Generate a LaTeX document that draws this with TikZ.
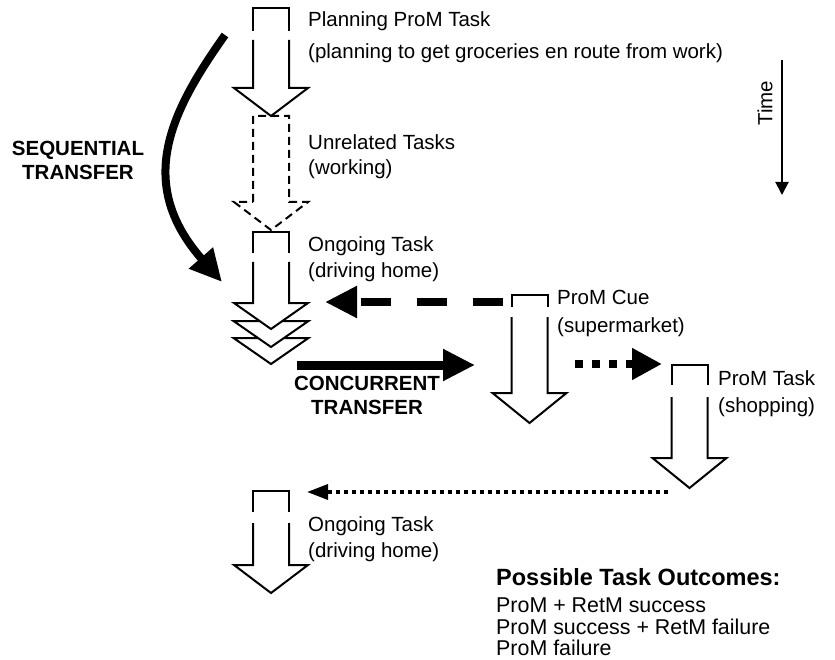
\documentclass[tikz,border=0pt]{standalone}
\usepackage{fontspec}
\setmainfont{Liberation Sans}
\usetikzlibrary{arrows.meta}
\tikzset{
  blk/.style={line width=2pt, line join=miter, miter limit=10},
  lbl/.style={anchor=base west, inner sep=0pt, font=\fontsize{20.5}{24}\selectfont},
  boldlbl/.style={align=center, inner sep=0pt, font=\fontsize{20.5}{24}\selectfont\bfseries},
  outc/.style={anchor=base west, inner sep=0pt, font=\fontsize{21.4}{22}\selectfont},
  bigtip/.style={-{Triangle[length=32pt,width=30pt]}},
}
\newcommand{\blockarr}[7][]{%
  \draw[blk,#1] ({#2-18},#4) -- ({#2-18},#3) -- ({#2+18},#3) -- ({#2+18},#4);
  \filldraw[blk,fill=white,#1] ({#2-18},#5) -- ({#2-18},#6) -- ({#2-37},#6) -- (#2,#7) -- ({#2+37},#6) -- ({#2+18},#6) -- ({#2+18},#5);
}
\begin{document}
\begin{tikzpicture}[x=1pt,y=-1pt]
\useasboundingbox (0,0) rectangle (835,660);
% block arrows
\blockarr{271}{8}{31}{40}{88}{116}
% unrelated (dashed)
\draw[blk,dash pattern=on 8pt off 5pt] (253,202) -- (253,116) -- (289,116) -- (289,202) -- (308,202) -- (271,230) -- (234,202) -- cycle;
% ongoing 1 with chevrons
\filldraw[blk,fill=white] (233.5,338) -- (271,364) -- (308.5,338) -- cycle;
\filldraw[blk,fill=white] (233.5,321) -- (271,347) -- (308.5,321) -- cycle;
\blockarr{271}{232}{253}{262}{303}{329}
% ProM cue
\blockarr{529.5}{295}{307}{317}{393}{423}
% ProM task
\blockarr{689.5}{365}{385}{397}{458}{488}
% final ongoing
\blockarr{271}{491}{512}{523}{565}{593}

% coordinates for connectors
\coordinate (seqS) at (225,35);
\coordinate (seqE) at (222,282);
\coordinate (cueL) at (503,302);
\coordinate (ongA) at (325,302);
\coordinate (conS) at (297,365);
\coordinate (conE) at (475,365);
\coordinate (dotS) at (575,364);
\coordinate (dotE) at (662,364);
\coordinate (retS) at (668,492);
\coordinate (retE) at (307,492);
\coordinate (timeS) at (782,60);
\coordinate (timeE) at (782,195);

% connectors
\draw[line width=8pt, bigtip] (seqS) .. controls (172,110) and (134,182) .. (seqE);
\draw[line width=8pt, dash pattern=on 30pt off 26pt, bigtip] (cueL) -- (ongA);
\draw[line width=9pt, bigtip] (conS) -- (conE);
\draw[line width=8pt, dash pattern=on 8pt off 9pt, -{Triangle[length=30pt,width=30pt]}] (dotS) -- (dotE);
\draw[line width=3.5pt, dash pattern=on 4pt off 4pt, -{Triangle[length=21pt,width=15pt]}] (retS) -- (retE);
\draw[line width=2pt, -{Triangle[length=13pt,width=13pt]}] (timeS) -- (timeE);

% labels
\node[lbl] (t1a) at (308,27) {Planning ProM Task};
\node[lbl] (t1b) at (308,59) {(planning to get groceries en route from work)};
\node[lbl] (t2a) at (308,150) {Unrelated Tasks};
\node[lbl] (t2b) at (308,175) {(working)};
\node[lbl] (t3a) at (308,252) {Ongoing Task};
\node[lbl] (t3b) at (308,277) {(driving home)};
\node[lbl] (t4a) at (557,305) {ProM Cue};
\node[lbl] (t4b) at (557,332) {(supermarket)};
\node[lbl] (t5a) at (718,385) {ProM Task};
\node[lbl] (t5b) at (718,412) {(shopping)};
\node[lbl] (t6a) at (308,531) {Ongoing Task};
\node[lbl] (t6b) at (308,557) {(driving home)};
\node[boldlbl] (seq) at (78,160) {SEQUENTIAL\\TRANSFER};
\node[boldlbl] (con) at (367,395) {CONCURRENT\\TRANSFER};
\node[inner sep=0pt, rotate=90, font=\fontsize{20.5}{24}\selectfont] (time) at (765,103) {Time};
\node[outc, font=\fontsize{23.5}{24}\selectfont\bfseries] (oh) at (496,585) {Possible Task Outcomes:};
\node[outc] (o1) at (496,612) {ProM + RetM success};
\node[outc] (o2) at (496,634) {ProM success + RetM failure};
\node[outc] (o3) at (496,655) {ProM failure};
\end{tikzpicture}
\end{document}
